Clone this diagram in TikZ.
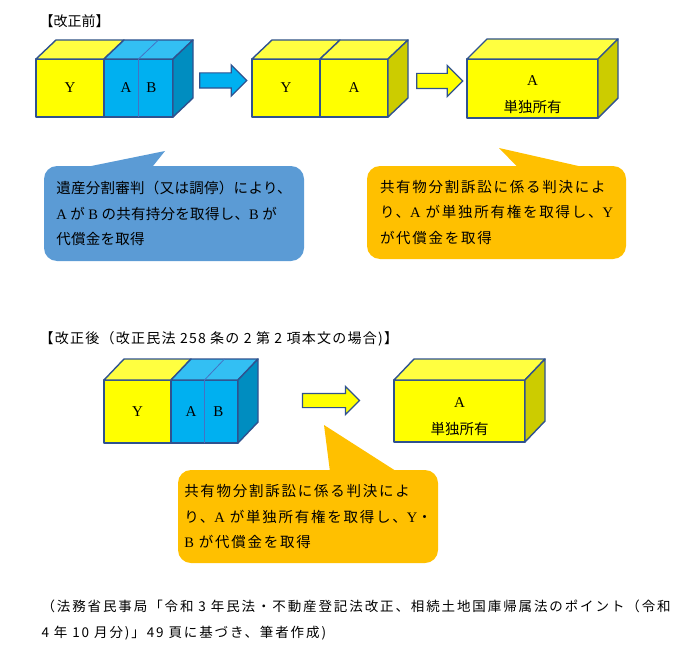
\documentclass[tikz,border=0pt]{standalone}
\usepackage{fontspec}
\setmainfont{Liberation Serif}
\newfontfamily\jp{Noto Sans CJK JP}
\newfontfamily\jpa[LetterSpace=2]{Noto Sans CJK JP}
\newfontfamily\jpb[LetterSpace=12]{Noto Sans CJK JP}
\newfontfamily\jpt[LetterSpace=9]{Noto Sans CJK JP}
\newfontfamily\jpn[LetterSpace=14]{Noto Sans CJK JP}
\newcommand{\lat}[1]{{\rmfamily #1}}
\usetikzlibrary{positioning,shapes.arrows}
\definecolor{edgeblue}{HTML}{2F528F}
\definecolor{yfront}{HTML}{FFFF00}
\definecolor{ytop}{HTML}{FFFF40}
\definecolor{yside}{HTML}{CCCC00}
\definecolor{bfront}{HTML}{00B0F0}
\definecolor{btop}{HTML}{33BFF3}
\definecolor{bside}{HTML}{008DC0}
\definecolor{divblue}{HTML}{4472C4}
\definecolor{calloutblue}{HTML}{5B9BD5}
\definecolor{calloutorange}{HTML}{FFC000}

\begin{document}
\begin{tikzpicture}[
      x=1pt, y=-1pt,
      face/.style={draw=edgeblue, line width=1.4pt, line join=round},
      front/.style={face, rectangle, outer sep=0pt, inner sep=0pt, font=\fontsize{15}{18}\selectfont},
      yfr/.style={front, fill=yfront},
      bfr/.style={front, fill=bfront},
      divline/.style={draw=divblue, line width=0.8pt},
      blkarrow/.style={single arrow, draw=edgeblue, line width=1.2pt, inner xsep=0pt, inner ysep=7pt, single arrow head extend=8pt, outer sep=0pt},
      bubble/.style={rectangle, rounded corners=13pt, inner sep=0pt, align=left, text=black},
      heading/.style={anchor=west, font=\jp\fontsize{14}{16}\selectfont},
    ]
    \useasboundingbox (0,0) rectangle (700,663);

    \node[heading] (ttl1) at (36,21) {【改正前】};
    \node[yfr, minimum width=68pt, minimum height=58pt] (y1) at (70,88) {Y};
    \node[bfr, minimum width=69pt, minimum height=58pt, right=0pt of y1] (ab1) {A\hspace{15pt}B};
    \draw[face, fill=ytop] (y1.north west) -- ++(20,-19) -- ++(68,0) -- (y1.north east) -- cycle;
    \draw[face, fill=btop] (ab1.north west) -- ++(20,-19) -- ++(69,0) -- (ab1.north east) -- cycle;
    \draw[face, fill=bside] (ab1.north east) -- ++(20,-19) -- ++(0,58) -- (ab1.south east) -- cycle;
    \draw[divline] (ab1.south) -- (ab1.north) -- ++(20,-19);

    \node[blkarrow, fill=bfront, minimum height=47pt] (ar1) at (219.5,80.5) {};

    \node[yfr, minimum width=68pt, minimum height=58pt] (y2) at (286,88) {Y};
    \node[yfr, minimum width=68pt, minimum height=58pt, right=0pt of y2] (a2) {A};
    \draw[face, fill=ytop] (y2.north west) -- ++(20,-19) -- ++(68,0) -- (y2.north east) -- cycle;
    \draw[face, fill=ytop] (a2.north west) -- ++(20,-19) -- ++(68,0) -- (a2.north east) -- cycle;
    \draw[face, fill=yside] (a2.north east) -- ++(20,-19) -- ++(0,58) -- (a2.south east) -- cycle;

    \node[blkarrow, fill=yfront, minimum height=46pt] (ar2) at (436,81) {};

    \node[yfr, minimum width=131pt, minimum height=59pt, align=center, font=\fontsize{15}{27}\selectfont] (own1) at (532.5,88.5) {\rule{0pt}{22pt}A\\{\jp\fontsize{14.5}{16}\selectfont 単独所有}};
    \draw[face, fill=ytop] (own1.north west) -- ++(20,-20) -- ++(131,0) -- (own1.north east) -- cycle;
    \draw[face, fill=yside] (own1.north east) -- ++(20,-20) -- ++(0,59) -- (own1.south east) -- cycle;

    \node[bubble, fill=calloutblue, minimum width=260pt, minimum height=95pt, font=\jpa\fontsize{14.5}{25.5}\selectfont] (c1) at (174,213.5) {遺産分割審判（又は調停）により、\\\lat{A} が \lat{B} の共有持分を取得し、\lat{B} が\\代償金を取得};
    \coordinate (tip1) at (165,151);
    \fill[calloutblue] ([xshift=46pt,yshift=-0.5pt]c1.north west) -- (tip1) -- ([xshift=109pt,yshift=-0.5pt]c1.north west) -- cycle;

    \node[bubble, fill=calloutorange, minimum width=259pt, minimum height=93pt, font=\jpb\fontsize{14.5}{25.5}\selectfont] (c2) at (496.5,212.5) {共有物分割訴訟に係る判決によ\\り、\lat{A} が単独所有権を取得し、\lat{Y}\\が代償金を取得};
    \coordinate (tip2) at (499,148);
    \fill[calloutorange] ([xshift=150pt,yshift=-0.5pt]c2.north west) -- (tip2) -- ([xshift=213pt,yshift=-0.5pt]c2.north west) -- cycle;

    \node[heading, font=\jpt\fontsize{14}{16}\selectfont] (ttl2) at (36,339) {【改正後（改正民法 258 条の 2 第 2 項本文の場合)】};
    \node[yfr, minimum width=67pt, minimum height=63pt] (y3) at (137.5,411.5) {Y};
    \node[bfr, minimum width=67pt, minimum height=63pt, right=0pt of y3] (ab3) {A\hspace{17pt}B};
    \draw[face, fill=ytop] (y3.north west) -- ++(20,-21) -- ++(67,0) -- (y3.north east) -- cycle;
    \draw[face, fill=btop] (ab3.north west) -- ++(20,-21) -- ++(67,0) -- (ab3.north east) -- cycle;
    \draw[face, fill=bside] (ab3.north east) -- ++(20,-21) -- ++(0,63) -- (ab3.south east) -- cycle;
    \draw[divline] (ab3.south) -- (ab3.north) -- ++(20,-21);

    \node[blkarrow, fill=yfront, minimum height=57pt, inner ysep=6.5pt, single arrow head extend=7pt] (ar3) at (327.5,400.5) {};

    \node[yfr, minimum width=131pt, minimum height=62pt, align=center, font=\fontsize{15}{27}\selectfont] (own2) at (459.5,411) {\rule{0pt}{22pt}A\\{\jp\fontsize{14.5}{16}\selectfont 単独所有}};
    \draw[face, fill=ytop] (own2.north west) -- ++(20,-21) -- ++(131,0) -- (own2.north east) -- cycle;
    \draw[face, fill=yside] (own2.north east) -- ++(20,-21) -- ++(0,62) -- (own2.south east) -- cycle;

    \node[bubble, fill=calloutorange, minimum width=260pt, minimum height=93pt, font=\jpb\fontsize{14.5}{25.5}\selectfont] (c3) at (308,516.5) {共有物分割訴訟に係る判決によ\\り、\lat{A} が単独所有権を取得し、\lat{Y}・\\\lat{B} が代償金を取得};
    \coordinate (tip3) at (324,425);
    \fill[calloutorange] ([xshift=152pt,yshift=-0.5pt]c3.north west) -- (tip3) -- ([xshift=217pt,yshift=-0.5pt]c3.north west) -- cycle;

    \node[anchor=west, align=left, font=\jpn\fontsize{13.5}{26}\selectfont] (src) at (38,620) {（法務省民事局「令和 3 年民法・不動産登記法改正、相続土地国庫帰属法のポイント（令和\\4 年 10 月分)」49 頁に基づき、筆者作成)};
  \end{tikzpicture}
\end{document}
